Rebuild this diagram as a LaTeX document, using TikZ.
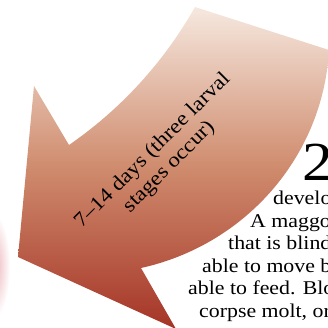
\documentclass[tikz,border=0pt]{standalone}
\usepackage{fontspec}
\setmainfont[FakeStretch=1.12]{Liberation Serif}
\usepackage{tikz}
\usetikzlibrary{positioning}
\definecolor{arrowtop}{RGB}{246,232,223}
\definecolor{arrowmid}{RGB}{207,139,109}
\definecolor{arrowbot}{RGB}{165,52,38}
\definecolor{glow}{RGB}{236,178,184}

\begin{document}
\begin{tikzpicture}[x=1pt,y=-1pt,
 lab/.style={inner sep=0pt,align=center,font=\fontsize{20.5}{23}\selectfont},
 body/.style={anchor=base west,inner sep=0pt,font=\fontsize{19.5}{23}\selectfont},
 big/.style={anchor=base west,inner sep=0pt,font=\fontsize{55}{55}\selectfont}]
\useasboundingbox (0,0) rectangle (328,327);
\clip (0,0) rectangle (328,327);
% faint glow at the left border
\shade[inner color=glow,outer color=white] (-6,266) ellipse [x radius=16,y radius=52];
% curved arrow
\shade[top color=arrowtop,bottom color=arrowbot,middle color=arrowmid]
 (195,7) -- (329,50) .. controls (323,157) and (245,245) .. (141,268)
 -- (176,329) -- (18,257) -- (34,86) -- (69,145)
 .. controls (121,109) and (164,62) .. (195,7) -- cycle;
\node[lab,rotate=45] (stagelab) at (161,159) {7–14 days (three larval\\stages occur)};
% stage text
\node[big] (num) at (302,180) {2};
\node[body] (l1) at (273,204) {develo};
\node[body] (l2) at (250,227) {A maggo};
\node[body] (l3) at (228,249.5) {that is blind};
\node[body] (l4) at (202,272) {able to move b};
\node[body] (l5) at (188,294.5) {able to feed. Blo};
\node[body] (l6) at (199,317) {corpse molt, or};
\end{tikzpicture}
\end{document}
